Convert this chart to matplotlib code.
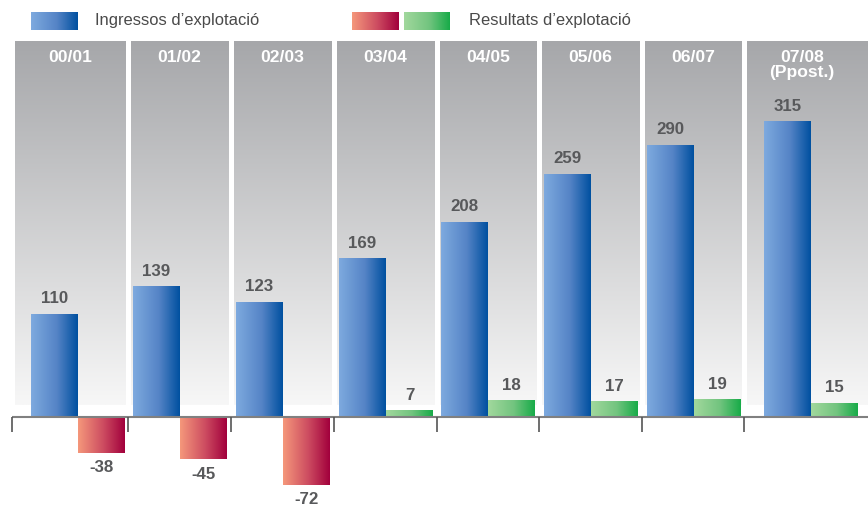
import numpy as np
import matplotlib.pyplot as plt
from matplotlib.colors import LinearSegmentedColormap

# dades
years = ['00/01', '01/02', '02/03', '03/04', '04/05', '05/06', '06/07', '07/08\n(Ppost.)']
ingressos = [110, 139, 123, 169, 208, 259, 290, 315]
resultats = [-38, -45, -72, 7, 18, 17, 19, 15]
legend_labels = ['Ingressos d\u2019explotació', 'Resultats d\u2019explotació']

# disposició (en píxels de la figura)
edges = [12, 128, 231, 334, 437, 539, 642, 744, 868]
centers = np.array([78, 180, 283, 386, 488, 591, 694, 811])
bar_w = 47
zero_px = 417
scale = 0.939  # píxels per unitat

plt.rcParams['font.family'] = ['Liberation Sans', 'DejaVu Sans']

cm_blue = LinearSegmentedColormap.from_list('b', [(0, '#7eaadf'), (0.55, '#5584c6'), (1, '#0050a0')])
cm_red = LinearSegmentedColormap.from_list('r', [(0, '#f5987b'), (0.55, '#cc4a60'), (1, '#a2003c')])
cm_green = LinearSegmentedColormap.from_list('g', [(0, '#a2d89d'), (0.55, '#72c47f'), (1, '#17ab48')])
cm_bg = LinearSegmentedColormap.from_list('bg', ['#f7f7f7', '#a6a7aa'])

grad_h = np.linspace(0, 1, 256).reshape(1, -1)
grad_v = np.linspace(0, 1, 256).reshape(-1, 1)


def dy(py):
    # píxel (des de dalt) -> valor de l'eix y
    return (zero_px - py) / scale


fig = plt.figure(figsize=(8.68, 5.08), dpi=100)
ax = fig.add_axes([0, 0, 1, 1])
ax.axis('off')

# fons de les columnes
for i in range(len(years)):
    left = edges[i] + 2.5
    right = edges[i + 1] - 2.5 if i < len(years) - 1 else 868
    ax.imshow(grad_v, cmap=cm_bg, origin='lower', aspect='auto',
              extent=(left, right, dy(405), dy(41)), zorder=1)
    hx = (left + right) / 2 if i < len(years) - 1 else 802
    ax.text(hx, dy(50.5), years[i], ha='center', va='top', color='white',
            fontsize=12.6, fontweight='bold', linespacing=0.95, zorder=4)


def grad_bars(rects, values, cmaps):
    for r, v, cm in zip(rects, values, cmaps):
        x, y = r.get_x(), r.get_y()
        w, h = r.get_width(), r.get_height()
        im = ax.imshow(grad_h, cmap=cm, aspect='auto',
                       extent=(x, x + w, min(y, y + h), max(y, y + h)), zorder=3)
        im.set_clip_path(r)


b1 = ax.bar(centers - bar_w / 2, ingressos, bar_w, color='none', zorder=3)
b2 = ax.bar(centers + bar_w / 2, resultats, bar_w, color='none', zorder=3)
grad_bars(b1, ingressos, [cm_blue] * len(ingressos))
grad_bars(b2, resultats, [cm_red if v < 0 else cm_green for v in resultats])

off = 15 / scale
lab_kw = dict(ha='center', va='center', fontsize=12.2, fontweight='bold', color='#58595b', zorder=5)
for c, v in zip(centers, ingressos):
    ax.text(c - bar_w / 2, v + off, str(v), **lab_kw)
for c, v in zip(centers, resultats):
    ax.text(c + bar_w / 2, v + off if v > 0 else v - off, str(v), **lab_kw)

# eix
ax.plot([edges[0], 868], [0, 0], color='#808080', lw=1.5, zorder=4, solid_capstyle='butt')
ax.vlines(edges[:-1], dy(432), 0, color='#555555', lw=1.2, zorder=4)

# llegenda
ax.imshow(grad_h, cmap=cm_blue, aspect='auto', extent=(31, 78, dy(30), dy(12)), zorder=3)
ax.imshow(grad_h, cmap=cm_red, aspect='auto', extent=(352, 399, dy(30), dy(12)), zorder=3)
ax.imshow(grad_h, cmap=cm_green, aspect='auto', extent=(404, 450, dy(30), dy(12)), zorder=3)
ax.text(95, dy(20), legend_labels[0], ha='left', va='center', fontsize=11.9, color='#4a4a4a')
ax.text(469, dy(20), legend_labels[1], ha='left', va='center', fontsize=11.9, color='#4a4a4a')

ax.set_xlim(0, 868)
ax.set_ylim(dy(508), dy(0))

fig.savefig('out.png', dpi=100)
